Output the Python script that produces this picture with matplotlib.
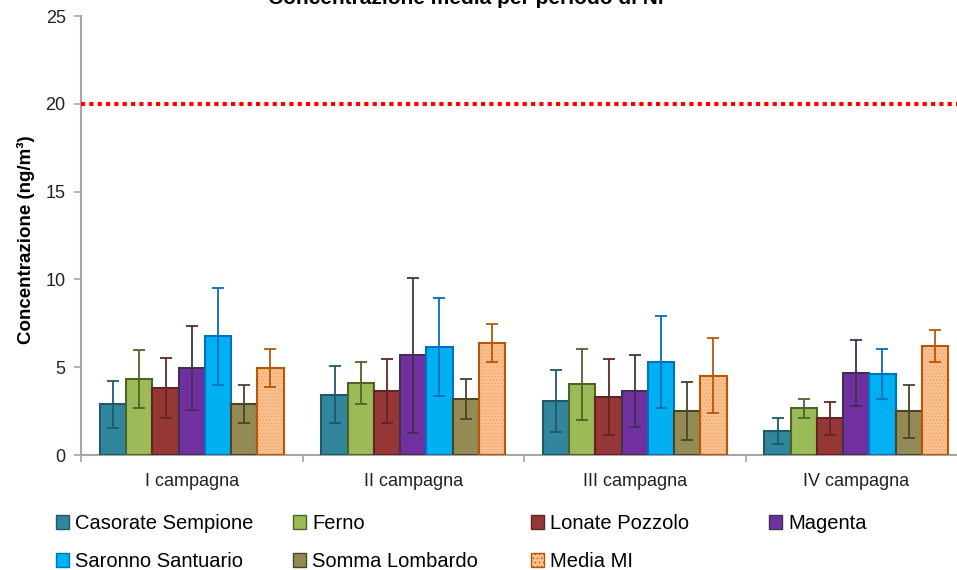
import numpy as np
import matplotlib.pyplot as plt

# campaign labels and stations
campagne = ['I campagna', 'II campagna', 'III campagna', 'IV campagna']
stazioni = ['Casorate Sempione', 'Ferno', 'Lonate Pozzolo', 'Magenta',
            'Saronno Santuario', 'Somma Lombardo', 'Media MI']

# mean concentration (ng/m3) per station, one value per campaign
casorate = [2.89, 3.43, 3.06, 1.37]
ferno = [4.31, 4.12, 4.03, 2.66]
lonate = [3.83, 3.63, 3.30, 2.09]
magenta = [4.94, 5.68, 3.66, 4.69]
saronno = [6.76, 6.15, 5.28, 4.63]
somma = [2.90, 3.19, 2.52, 2.49]
media_mi = [4.97, 6.38, 4.52, 6.21]

# standard deviation (error bars)
err_casorate = [1.34, 1.63, 1.77, 0.75]
err_ferno = [1.65, 1.19, 2.02, 0.53]
err_lonate = [1.72, 1.82, 2.16, 0.94]
err_magenta = [2.38, 4.40, 2.06, 1.88]
err_saronno = [2.77, 2.81, 2.61, 1.42]
err_somma = [1.10, 1.12, 1.64, 1.50]
err_media = [1.08, 1.07, 2.15, 0.89]

limite = 20  # target value

valori = [casorate, ferno, lonate, magenta, saronno, somma, media_mi]
errori = [err_casorate, err_ferno, err_lonate, err_magenta, err_saronno,
          err_somma, err_media]
colori = ['#31859C', '#9BBB59', '#953735', '#7030A0', '#00B0F0', '#948A54', '#FAC090']
bordi = ['#215968', '#4F6228', '#632523', '#403151', '#0070C0', '#4A452A', '#B65708']

plt.rcParams['font.family'] = ['Liberation Sans', 'DejaVu Sans']
plt.rcParams['hatch.linewidth'] = 0.6

fig = plt.figure(figsize=(9.57, 5.70), dpi=100)
ax = fig.add_axes([81 / 957, 1 - 455 / 570, 886 / 957, 439 / 570])

x = np.arange(len(campagne)) + 0.5
w = 0.1185
handles = []
for i, (v, e) in enumerate(zip(valori, errori)):
    pos = x + (i - 3) * w
    if i == 6:
        ax.bar(pos, v, w, color=colori[i], edgecolor='#F4A460', hatch='.....',
               linewidth=0, zorder=2)
        ax.bar(pos, v, w, facecolor='none', edgecolor=bordi[i], linewidth=1.5, zorder=3)
        h = plt.Rectangle((0, 0), 1, 1, facecolor=colori[i], edgecolor=bordi[i],
                          hatch='....', linewidth=1)
    else:
        ax.bar(pos, v, w, color=colori[i], edgecolor=bordi[i], linewidth=1.5, zorder=3)
        h = plt.Rectangle((0, 0), 1, 1, facecolor=colori[i], edgecolor=bordi[i], linewidth=1)
    ax.errorbar(pos, v, yerr=e, fmt='none', ecolor=bordi[i], elinewidth=1.3,
                capsize=4, capthick=1.3, zorder=4)
    handles.append(h)

ax.axhline(limite, color='#FF0000', linestyle=(0, (1, 1)), linewidth=3, zorder=5)

ax.set_xlim(0, 4)
ax.set_ylim(0, 25)
ax.set_yticks(np.arange(0, 26, 5))
ax.set_xticks(np.arange(0, 5))
ax.set_xticklabels([])
ax.set_xticks(x, minor=True)
ax.set_xticklabels(campagne, minor=True, fontsize=13, color='#222222')
ax.tick_params(axis='x', which='minor', length=0, pad=13)
ax.tick_params(axis='x', which='major', length=5, color='#A6A6A6', width=1.2)
ax.tick_params(axis='y', length=5, color='#A6A6A6', width=1.2, labelsize=13,
               labelcolor='#222222', pad=6)
for s in ['top', 'right']:
    ax.spines[s].set_visible(False)
for s in ['left', 'bottom']:
    ax.spines[s].set_color('#A6A6A6')
    ax.spines[s].set_linewidth(1.5)

ax.set_ylabel('Concentrazione (ng/m³)', fontsize=13.5, fontweight='bold')
ax.yaxis.set_label_coords(-0.052, 0.49)

fig.text(466 / 957, 1 - 4 / 570, 'Concentrazione media per periodo di Ni',
         ha='center', va='baseline', fontsize=15, fontweight='bold')

# legend: 4 evenly spaced columns, 2 rows
col_x = [56, 293, 531, 769]
colonne = [[0, 4], [1, 5], [2, 6], [3]]
for cx, idx in zip(col_x, colonne):
    fig.legend([handles[k] for k in idx], [stazioni[k] for k in idx],
               loc='upper left', bbox_to_anchor=(cx / 957, 1 - 514 / 570),
               frameon=False, fontsize=14.5, handlelength=0.65, handleheight=0.65,
               handletextpad=0.3, labelspacing=0.95, borderaxespad=0,
               borderpad=0)

fig.savefig('out.png', dpi=100)
